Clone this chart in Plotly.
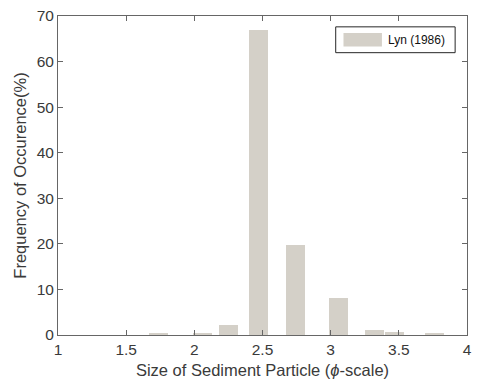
import plotly.graph_objects as go

# Grain size (phi units) of the sieve classes and their frequency of occurrence (%)
phi_size = [1.74, 2.06, 2.25, 2.47, 2.74, 3.06, 3.32, 3.47, 3.76]
frequency = [0.25, 0.4, 2.1, 67.0, 19.7, 8.1, 1.15, 0.6, 0.3]
series_name = "Lyn (1986)"

x_ticks = [1, 1.5, 2, 2.5, 3, 3.5, 4]
x_tick_text = ["1", "1.5", "2", "2.5", "3", "3.5", "4"]
y_ticks = [0, 10, 20, 30, 40, 50, 60, 70]

bar_color = "#D4D0C8"
axis_color = "#666666"
text_color = "#3a3a3a"
font_family = "Liberation Sans, Arial, sans-serif"

fig = go.Figure()
fig.add_trace(go.Bar(
    x=phi_size,
    y=frequency,
    width=0.138,
    name=series_name,
    marker=dict(color=bar_color, line=dict(width=0)),
    showlegend=False,
))

axis_common = dict(
    showgrid=False,
    zeroline=False,
    showline=True,
    linecolor=axis_color,
    linewidth=1,
    mirror="ticks",
    ticks="inside",
    ticklen=5,
    tickcolor=axis_color,
    tickfont=dict(family=font_family, size=15.5, color=text_color),
)

# Boxed legend in the upper-right corner, drawn in paper coordinates
legend_shapes = [
    dict(type="rect", xref="paper", yref="paper",
         x0=0.679, x1=0.971, y0=0.885, y1=0.966,
         line=dict(color="#262626", width=1), fillcolor="white", layer="above"),
    dict(type="rect", xref="paper", yref="paper",
         x0=0.698, x1=0.792, y0=0.904, y1=0.947,
         line=dict(width=0), fillcolor=bar_color, layer="above"),
]
legend_text = dict(
    text=series_name, xref="paper", yref="paper",
    x=0.802, y=0.926, xanchor="left", yanchor="middle",
    showarrow=False,
    font=dict(family=font_family, size=12, color="#111111"),
)

fig.update_layout(
    width=479,
    height=386,
    margin=dict(l=58, r=7, t=12, b=51),
    paper_bgcolor="white",
    plot_bgcolor="white",
    font=dict(family=font_family, color=text_color),
    xaxis=dict(
        range=[1, 4],
        tickmode="array",
        tickvals=x_ticks,
        ticktext=x_tick_text,
        title=dict(text="Size of Sediment Particle (<i>ϕ</i>-scale)",
                   font=dict(family=font_family, size=16.5, color=text_color),
                   standoff=7),
        **axis_common,
    ),
    yaxis=dict(
        range=[0, 70],
        tickmode="array",
        tickvals=y_ticks,
        title=dict(text="Frequency of Occurence(%)",
                   font=dict(family=font_family, size=16.5, color=text_color),
                   standoff=5),
        **axis_common,
    ),
    shapes=legend_shapes,
    annotations=[legend_text],
    bargap=0,
)

fig.write_html("out.html")
